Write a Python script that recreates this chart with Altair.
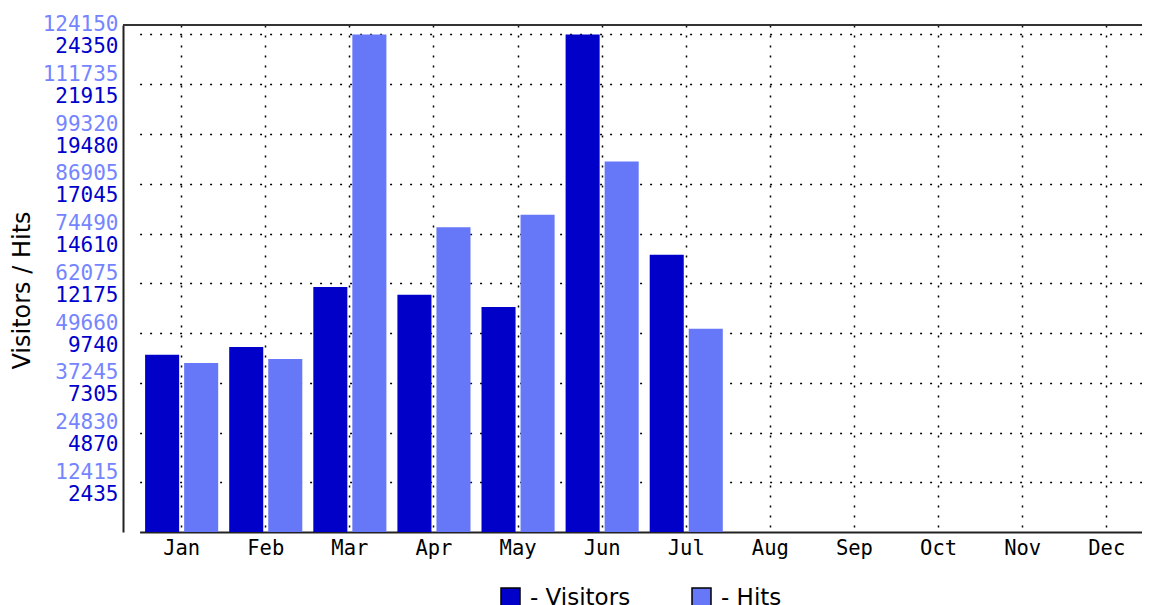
import altair as alt
import pandas as pd

months = ["Jan", "Feb", "Mar", "Apr", "May", "Jun", "Jul", "Aug", "Sep", "Oct", "Nov", "Dec"]
data_months = ["Jan", "Feb", "Mar", "Apr", "May", "Jun", "Jul"]
visitors = [8680, 9055, 11990, 11610, 11010, 24350, 13570]
hits = [42180, 43180, 124150, 76080, 79150, 92440, 50730]
series = ["Visitors", "Hits"]
visitor_ticks = [2435, 4870, 7305, 9740, 12175, 14610, 17045, 19480, 21915, 24350]
hit_ticks = [12415, 24830, 37245, 49660, 62075, 74490, 86905, 99320, 111735, 124150]

c_vis = "#0000C8"
c_hits = "#6677F7"

rows = []
for m, v, h in zip(data_months, visitors, hits):
    rows.append({"month": m, "series": "Visitors", "value": v})
    rows.append({"month": m, "series": "Hits", "value": h})
df = pd.DataFrame(rows)

vmax = 24350 * 507 / 497.5
hmax = 124150 * 507 / 497.5

mono = "DejaVu Sans Mono"
sans = "DejaVu Sans"

xenc = alt.X(
    "month:N",
    sort=months,
    scale=alt.Scale(domain=months, range=[16.6, 1025.8], paddingInner=0, paddingOuter=0),
    axis=alt.Axis(
        title=None, labelAngle=0, labelFont=mono, labelFontSize=20.5, labelColor="#000",
        ticks=False, labelPadding=6, domainColor="#222", domainWidth=2,
        grid=True, gridDash=[2, 8], gridColor="#000", gridWidth=1.5, gridOpacity=1,
        bandPosition=0.5,
    ),
)
xoff = alt.XOffset("series:N", scale=alt.Scale(domain=series, paddingInner=0.128, paddingOuter=0.141))
color = alt.Color(
    "series:N",
    scale=alt.Scale(domain=series, range=[c_vis, c_hits]),
    legend=alt.Legend(
        orient="none", legendX=376, legendY=561, direction="horizontal", title=None,
        symbolType="square", symbolSize=361, symbolStrokeColor="black", symbolStrokeWidth=1.5,
        symbolOpacity=1, labelFont=sans, labelFontSize=23, labelColor="#000",
        labelExpr="'- ' + datum.label", columnPadding=58, labelOffset=8,
    ),
)

base = alt.Chart(df)

vis_layer = base.transform_filter(alt.datum.series == "Visitors").mark_bar().encode(
    x=xenc,
    xOffset=xoff,
    y=alt.Y(
        "value:Q",
        scale=alt.Scale(domain=[0, vmax], nice=False, zero=True),
        axis=alt.Axis(
            orient="left", offset=0, values=visitor_ticks, format="d",
            labelFont=mono, labelFontSize=21, labelColor="#0000CC", labelOffset=12,
            labelPadding=5, ticks=False, labelOverlap=False, labelFlush=False,
            domainColor="#222", domainWidth=2,
            grid=True, gridDash=[2, 8], gridColor="#000", gridWidth=1.5, gridOpacity=1,
            title="Visitors / Hits", titleFont=sans, titleFontSize=24, titleFontWeight="normal",
            titleColor="#000", titleX=-101, titleY=265, titleAngle=270,
            titleAlign="center", titleBaseline="middle",
        ),
    ),
    color=color,
)

hits_layer = base.transform_filter(alt.datum.series == "Hits").mark_bar().encode(
    x=xenc,
    xOffset=xoff,
    y=alt.Y(
        "value:Q",
        scale=alt.Scale(domain=[0, hmax], nice=False, zero=True),
        axis=alt.Axis(
            orient="left", offset=0, values=hit_ticks, format="d",
            labelFont=mono, labelFontSize=21, labelColor="#7585FF", labelOffset=-10,
            labelPadding=5, ticks=False, labelOverlap=False, labelFlush=False,
            domain=False, grid=False, title=None,
        ),
    ),
    color=color,
)

top_rule = alt.Chart(pd.DataFrame({"a": [0]})).mark_rule(color="#333", strokeWidth=2).encode(
    y=alt.value(0)
)

chart = (
    alt.layer(vis_layer, hits_layer, top_rule)
    .resolve_scale(y="independent")
    .properties(
        width=1019, height=507,
        padding={"left": 115, "top": 17, "right": 0, "bottom": 73},
        autosize=alt.AutoSizeParams(type="none"),
        background="white",
    )
    .configure_view(stroke=None)
)

chart.save("out.html", embed_options={"renderer": "svg", "actions": False})
